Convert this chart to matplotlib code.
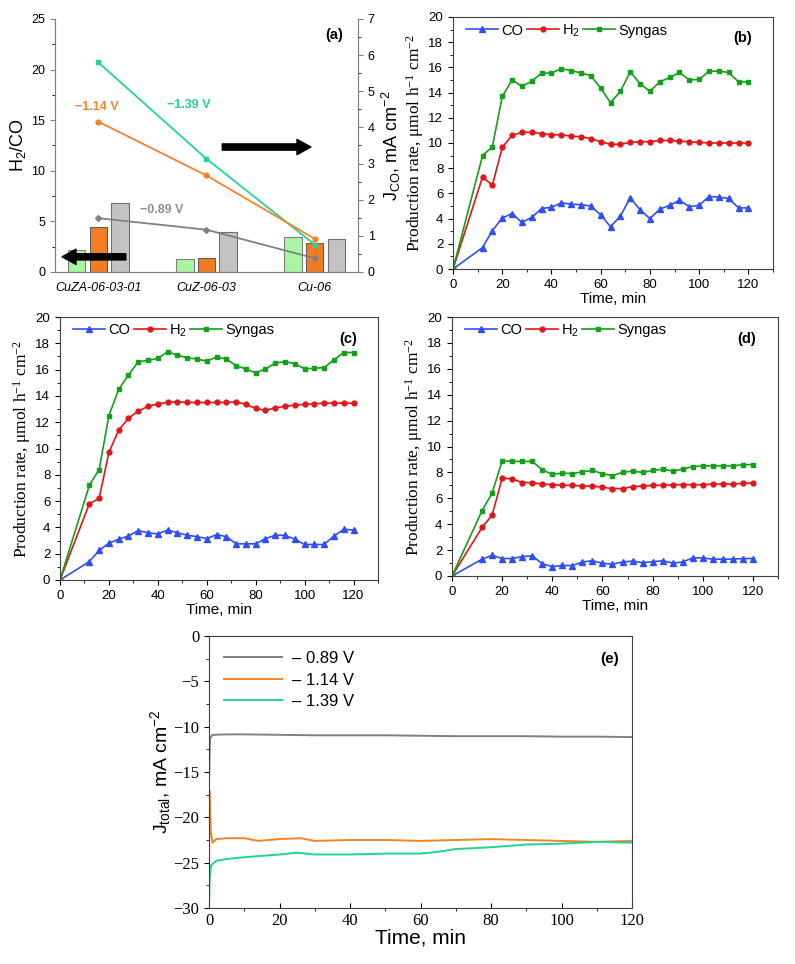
import numpy as np
import matplotlib
matplotlib.use('Agg')
import matplotlib.pyplot as plt
from matplotlib.ticker import MultipleLocator

plt.rcParams['font.family'] = ['Liberation Sans', 'DejaVu Sans']
plt.rcParams['xtick.direction'] = 'out'
plt.rcParams['ytick.direction'] = 'out'

# ---- panel (a) ----
catalysts = ['CuZA-06-03-01', 'CuZ-06-03', 'Cu-06']
h2co_139 = [2.2, 1.3, 3.5]
h2co_114 = [4.4, 1.4, 2.9]
h2co_089 = [6.85, 3.95, 3.3]
jco_139 = [5.8, 3.13, 0.76]
jco_114 = [4.16, 2.67, 0.92]
jco_089 = [1.49, 1.17, 0.38]

# ---- panels (b)-(d) ----
time_min = [0, 12, 16, 20, 24, 28, 32, 36, 40, 44, 48, 52, 56, 60, 64, 68,
            72, 76, 80, 84, 88, 92, 96, 100, 104, 108, 112, 116, 120]

co_b = [0, 1.7, 3.05, 4.05, 4.4, 3.7, 4.1, 4.8, 4.9, 5.25, 5.15, 5.1, 5.0, 4.3, 3.35, 4.2,
        5.65, 4.7, 4.0, 4.75, 5.05, 5.45, 4.95, 5.05, 5.75, 5.7, 5.6, 4.85, 4.85]
h2_b = [0, 7.3, 6.65, 9.65, 10.6, 10.85, 10.85, 10.75, 10.65, 10.65, 10.55, 10.5, 10.35, 10.1, 9.9, 9.9,
        10.05, 10.1, 10.1, 10.2, 10.2, 10.15, 10.1, 10.05, 10.0, 10.0, 10.0, 10.0, 10.0]
syn_b = [0, 9.0, 9.7, 13.7, 15.0, 14.5, 14.9, 15.55, 15.55, 15.9, 15.75, 15.55, 15.35, 14.35, 13.2, 14.1,
         15.65, 14.7, 14.1, 14.85, 15.2, 15.6, 15.0, 15.05, 15.7, 15.7, 15.6, 14.85, 14.85]

co_c = [0, 1.4, 2.25, 2.8, 3.1, 3.35, 3.75, 3.6, 3.5, 3.8, 3.6, 3.4, 3.3, 3.15, 3.45, 3.3,
        2.75, 2.75, 2.75, 3.15, 3.4, 3.4, 3.1, 2.7, 2.7, 2.7, 3.35, 3.85, 3.8]
h2_c = [0, 5.8, 6.2, 9.7, 11.4, 12.3, 12.85, 13.2, 13.4, 13.5, 13.55, 13.5, 13.5, 13.5, 13.5, 13.5,
        13.55, 13.35, 13.05, 12.9, 13.1, 13.2, 13.3, 13.35, 13.4, 13.45, 13.45, 13.45, 13.45]
syn_c = [0, 7.2, 8.4, 12.5, 14.5, 15.6, 16.6, 16.7, 16.85, 17.35, 17.1, 16.9, 16.8, 16.65, 16.95, 16.8,
         16.3, 16.05, 15.75, 16.05, 16.5, 16.6, 16.45, 16.05, 16.1, 16.15, 16.75, 17.3, 17.3]

co_d = [0, 1.3, 1.6, 1.35, 1.35, 1.5, 1.55, 0.95, 0.72, 0.82, 0.8, 1.08, 1.18, 0.98, 0.92, 1.08,
        1.15, 1.03, 1.1, 1.18, 1.0, 1.08, 1.4, 1.4, 1.3, 1.3, 1.3, 1.35, 1.35]
h2_d = [0, 3.75, 4.7, 7.55, 7.5, 7.22, 7.2, 7.1, 7.05, 7.0, 7.0, 6.95, 6.95, 6.85, 6.75, 6.75,
        6.9, 6.95, 7.0, 7.0, 7.05, 7.05, 7.05, 7.05, 7.1, 7.1, 7.1, 7.15, 7.2]
syn_d = [0, 5.05, 6.4, 8.9, 8.85, 8.85, 8.85, 8.2, 7.85, 7.95, 7.9, 8.05, 8.15, 7.9, 7.75, 8.0,
         8.1, 8.0, 8.15, 8.25, 8.1, 8.25, 8.45, 8.5, 8.5, 8.5, 8.5, 8.6, 8.6]

# ---- panel (e) ----
t_089 = [0, 0.3, 1, 5, 10, 20, 30, 40, 50, 60, 70, 80, 90, 100, 110, 120]
j_089 = [-16.0, -11.3, -10.9, -10.85, -10.85, -10.9, -10.95, -10.95, -10.95, -11.0,
         -11.05, -11.05, -11.05, -11.1, -11.1, -11.15]
t_114 = [0, 0.1, 0.5, 1.0, 2, 5, 10, 14, 20, 26, 30, 40, 50, 60, 70, 80, 90, 100, 110, 120]
j_114 = [-30, -17.0, -21.5, -22.8, -22.4, -22.3, -22.3, -22.6, -22.4, -22.3, -22.6, -22.5,
         -22.5, -22.6, -22.5, -22.4, -22.5, -22.6, -22.7, -22.6]
t_139 = [0, 0.2, 0.6, 2, 5, 10, 20, 25, 30, 40, 50, 60, 65, 70, 80, 90, 100, 110, 120]
j_139 = [-30, -26.5, -25.3, -24.8, -24.6, -24.4, -24.1, -23.9, -24.1, -24.1, -24.0, -24.0,
         -23.8, -23.5, -23.3, -23.0, -22.9, -22.7, -22.8]

W, H = 795, 964
fig = plt.figure(figsize=(W / 100, H / 100), dpi=100)


def px_axes(left, top, right, bottom):
    return fig.add_axes([left / W, 1 - bottom / H, (right - left) / W, (bottom - top) / H])


# ================= (a) =================
ax = px_axes(55, 19, 358, 272)
ax2 = ax.twinx()
x = np.arange(len(catalysts))
bw = 0.16
ax.bar(x - 0.2, h2co_139, bw, color='#a9f5a4', edgecolor='#808080', lw=0.8)
ax.bar(x, h2co_114, bw, color='#f27d24', edgecolor='#606060', lw=0.8)
ax.bar(x + 0.2, h2co_089, bw, color='#c3c3c3', edgecolor='#707070', lw=0.8)
ax.set_xlim(-0.4, 2.4)
ax.set_ylim(0, 25)
ax.yaxis.set_major_locator(MultipleLocator(5))
ax.yaxis.set_minor_locator(MultipleLocator(2.5))
ax.set_xticks(x)
ax.set_xticklabels(catalysts, style='italic', fontsize=9)
ax.tick_params(axis='x', length=0, pad=7)
ax.tick_params(axis='y', labelsize=9, color='#808080')
ax.set_ylabel('H$\\mathregular{_2}$/CO', fontsize=13, labelpad=2)
ax.spines['top'].set_visible(False)
ax2.spines['top'].set_visible(False)
for sp in ['left', 'right', 'bottom']:
    ax.spines[sp].set_color('#808080')
    ax2.spines[sp].set_color('#808080')

ax2.plot(x, jco_139, '-s', color='#22d39a', ms=3.5, lw=1.3)
ax2.plot(x, jco_114, '-o', color='#f5822a', ms=3.5, lw=1.3)
ax2.plot(x, jco_089, '-D', color='#808080', ms=3, lw=1.3)
ax2.set_ylim(0, 7)
ax2.yaxis.set_major_locator(MultipleLocator(1))
ax2.yaxis.set_minor_locator(MultipleLocator(0.5))
ax2.tick_params(axis='y', labelsize=9, color='#808080')
ax2.set_ylabel('J$\\mathregular{_{CO}}$, mA cm$\\mathregular{^{-2}}$', fontsize=13, labelpad=4)

ax.text(-0.01, 16.0, '\u22121.14 V', color='#f5822a', fontsize=9, fontweight='bold', ha='center')
ax.text(0.84, 16.2, '\u22121.39 V', color='#22d39a', fontsize=9, fontweight='bold', ha='center')
ax.text(0.59, 5.8, '\u22120.89 V', color='#909090', fontsize=9, fontweight='bold', ha='center')
ax.text(2.18, 23.0, '(a)', fontsize=10.5, fontweight='bold', ha='center')
arrow = dict(arrowstyle='simple,head_width=1.1,head_length=1.0,tail_width=0.45',
             color='black', mutation_scale=10)
ax.annotate('', xy=(1.99, 12.35), xytext=(1.12, 12.35), arrowprops=arrow)
ax.annotate('', xy=(-0.36, 1.5), xytext=(0.28, 1.5), arrowprops=arrow)


# ================= (b)-(d) =================
def rate_panel(rect, co, h2, syn, tag):
    a = px_axes(*rect)
    a.plot(time_min, co, '-^', color='#2f4ff5', ms=4, lw=1.2, label='CO')
    a.plot(time_min, h2, '-o', color='#e0161a', ms=3.5, lw=1.2, label='H$\\mathregular{_2}$')
    a.plot(time_min, syn, '-s', color='#13a01a', ms=3.5, lw=1.2, label='Syngas')
    a.set_xlim(0, 130)
    a.set_ylim(0, 20)
    a.xaxis.set_major_locator(MultipleLocator(20))
    a.xaxis.set_minor_locator(MultipleLocator(10))
    a.yaxis.set_major_locator(MultipleLocator(2))
    a.yaxis.set_minor_locator(MultipleLocator(1))
    a.tick_params(labelsize=9.5)
    a.set_xlabel('Time, min', fontsize=11, labelpad=1)
    a.set_ylabel('Production rate, \u03bcmol h$\\mathregular{^{-1}}$ cm$\\mathregular{^{-2}}$',
                 family=['Liberation Serif', 'DejaVu Serif'], fontsize=12.5, labelpad=2)
    a.legend(loc='upper left', bbox_to_anchor=(0.0, 1.03), ncol=3, frameon=False,
             fontsize=10.5, handlelength=2.2, handletextpad=0.2, columnspacing=0.25)
    a.text(0.905, 0.9, tag, transform=a.transAxes, fontsize=10.5, fontweight='bold', ha='center')
    for sp in a.spines.values():
        sp.set_color('#404040')
    return a


rate_panel((453, 17, 773, 269), co_b, h2_b, syn_b, '(b)')
rate_panel((60, 317, 378, 580), co_c, h2_c, syn_c, '(c)')
rate_panel((452, 317, 778, 576), co_d, h2_d, syn_d, '(d)')

# ================= (e) =================
ae = px_axes(209, 636, 632, 908)
ae.plot(t_089, j_089, color='#808080', lw=1.4, label='\u2013 0.89 V')
ae.plot(t_114, j_114, color='#f5822a', lw=1.4, label='\u2013 1.14 V')
ae.plot(t_139, j_139, color='#1fd68f', lw=1.4, label='\u2013 1.39 V')
ae.set_xlim(0, 120)
ae.set_ylim(-30, 0)
ae.xaxis.set_major_locator(MultipleLocator(20))
ae.xaxis.set_minor_locator(MultipleLocator(10))
ae.yaxis.set_major_locator(MultipleLocator(5))
ae.yaxis.set_minor_locator(MultipleLocator(2.5))
ae.tick_params(axis='x', direction='in')
ae.tick_params(labelsize=12)
for lab in ae.get_xticklabels() + ae.get_yticklabels():
    lab.set_family(['Liberation Serif', 'DejaVu Serif'])
ae.set_xlabel('Time, min', fontsize=15, labelpad=0)
ae.set_ylabel('J$\\mathregular{_{total}}$, mA cm$\\mathregular{^{-2}}$', fontsize=14, labelpad=0)
ae.legend(loc='upper left', frameon=False, fontsize=12, handlelength=3.5,
          handletextpad=0.6, labelspacing=0.4)
ae.text(0.948, 0.9, '(e)', transform=ae.transAxes, fontsize=11, fontweight='bold', ha='center')
for sp in ae.spines.values():
    sp.set_color('#404040')

fig.savefig('out.png', dpi=100)
